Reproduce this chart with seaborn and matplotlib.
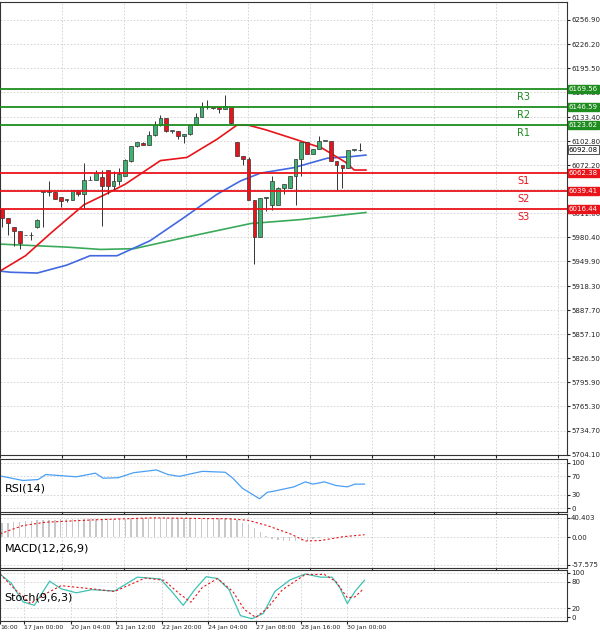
import numpy as np
import pandas as pd
import matplotlib
matplotlib.use("Agg")
import matplotlib.pyplot as plt
import seaborn as sns

# ---- data ----
opens  = [6016,6005,5994,5989,5984,5983,5993,6038,6038,6038,6032,6028,6028,6040,6035,6053,6053,6057,6066,6046,6052,6058,6077,6096,6100,6098,6110,6123,6132,6116,6116,6109,6112,6123,6134,6146,6146,6146,6144,6146,6101,6084,6080,6028,5981,6031,6022,6022,6043,6043,6059,6080,6102,6086,6093,6103,6103,6077,6072,6068,6092,6092]
closes = [6005,5999,5989,5973,5983,5983,6002,6038,6038,6029,6026,6029,6040,6035,6053,6053,6062,6046,6046,6052,6061,6079,6096,6101,6098,6110,6123,6132,6115,6116,6109,6112,6123,6134,6146,6146,6145,6144,6147,6126,6084,6080,6028,5981,6031,6032,6052,6043,6048,6059,6080,6102,6086,6093,6103,6103,6077,6072,6068,6091,6092,6091]
highs  = [6016,6005,5994,5989,5984,5987,6004,6038,6052,6038,6032,6029,6040,6040,6075,6058,6066,6066,6046,6065,6068,6080,6096,6101,6101,6115,6128,6136,6132,6116,6116,6112,6123,6138,6153,6155,6146,6148,6161,6146,6101,6084,6082,6028,6031,6032,6058,6044,6048,6059,6080,6102,6102,6093,6109,6103,6103,6077,6072,6075,6092,6100]
lows   = [5994,5984,5970,5966,5983,5977,5992,5994,6033,6029,6019,6025,6028,6033,6018,6053,6053,5995,6035,6040,6047,6058,6076,6095,6098,6098,6109,6122,6114,6113,6106,6100,6110,6123,6134,6144,6143,6138,6144,6124,6084,6073,6080,5946,5981,6014,6015,6033,6035,6043,6022,6058,6086,6086,6093,6103,6077,6040,6043,6068,6090,6090]

red_ma_x  = [-5,-2,4,8.5,14,17.6,21,27,31.5,36.6,40,42,45,50,54.5,58.5,60,62]
red_ma_y  = [5900,5930,5957,5987,6022,6035,6048,6078,6082,6105,6123,6123,6117,6105,6094,6076,6066,6066]
blue_ma_x = [-1,1.5,6,11,15,19.6,25.2,30.9,36.6,40.6,44,49.7,55.4,59.4,62]
blue_ma_y = [5938,5936,5935,5945,5957,5957,5976,6005,6035,6052,6062,6069,6081,6083,6085]
green_ma_x= [-1,11,16.8,22.5,31,42.4,50.9,62]
green_ma_y= [5972,5968,5965,5966,5980,5998,6003,6012]

levels_val = [6169.56,6146.59,6123.62,6062.38,6039.41,6016.44]
levels_lab = ["R3","R2","R1","S1","S2","S3"]
last_price = 6092.08
price_ticks = [6256.90,6226.20,6195.50,6164.80,6133.40,6102.80,6072.20,6041.70,6011.00,5980.40,5949.90,5918.30,5887.70,5857.10,5826.50,5795.90,5765.30,5734.70,5704.10]

rsi_x = [0,60,100,120,200,250,270,310,350,410,440,470,530,590,610,635,680,700,720,770,800,820,850,880,910,930,955]
rsi_y = [71,61,63,74,69,77,66,67,78,84,74,70,81,79,66,44,21,35,38,47,58,53,58,50,47,53,53]

macd_hist = [29,30,31,32,33,34,35,35,36,36,37,37,37,37,38,38,38,38,38,38,38,38,39,39,39,39,39,40,40,40,40,40,40,40,40,40,40,40,40,40,35,30,25,18,10,3,-4,-6,-7,-8,-8,-9,-7,-4,-1,0,0,0,0,0,0,0]
macd_sig_x = [0,60,120,250,400,600,650,700,760,800,840,900,955]
macd_sig_y = [7,24,31,36,40,38,35,24,7,-8,-7,1,5]

sto_x = [0,30,60,90,130,160,200,240,300,360,420,450,480,510,540,570,600,630,660,690,720,760,800,840,870,890,910,930,955]
sto_y = [97,76,35,27,81,64,55,62,59,90,86,58,27,62,91,87,62,4,-3,9,58,84,97,90,90,67,31,58,83]
sig_x = [0,40,80,120,160,240,300,380,430,470,500,530,570,610,640,670,700,740,800,850,880,910,930,950]
sig_y = [97,62,31,53,71,64,58,88,83,53,34,67,87,58,18,0,20,62,96,96,80,44,46,62]

x_labels = ["16:00","17 Jan 00:00","20 Jan 04:00","21 Jan 12:00","22 Jan 20:00","24 Jan 04:00","27 Jan 08:00","28 Jan 16:00","30 Jan 00:00"]
x_label_px = [0,24,71,116,162,208,256,301,347]

# ---- layout ----
W, H = 600, 635
fig = plt.figure(figsize=(6, 6.35), dpi=100)
fig.patch.set_facecolor("white")
pw = 567 / W
def px2idx(px):
    return (np.asarray(px, float) - 2) / 5.87
ZX = 2.62  # zoom scale of indicator readings
xlim = (px2idx(0), px2idx(567))

ax = fig.add_axes([0, (H-455)/H, pw, 453/H])
ax_rsi = fig.add_axes([0, (H-512)/H, pw, 53/H])
ax_macd = fig.add_axes([0, (H-568)/H, pw, 54/H])
ax_sto = fig.add_axes([0, (H-621)/H, pw, 51/H])

for a in (ax, ax_rsi, ax_macd, ax_sto):
    a.set_xlim(*xlim)
    a.set_xticks(px2idx(np.arange(0, 567, 62)))
    a.grid(True, color="#cfcfcf", linestyle=(0, (2, 2)), linewidth=0.6)
    a.set_axisbelow(True)
    a.yaxis.tick_right()
    a.tick_params(axis="both", labelsize=5, length=2, pad=1, colors="#222222")
    a.set_xticklabels([])
    for s in a.spines.values():
        s.set_color("#333333"); s.set_linewidth(0.8)

# main candles
idx = np.arange(len(opens))
o = np.array(opens); c = np.array(closes)
ax.vlines(idx, lows, highs, color="#333333", linewidth=0.7, zorder=3)
cols = np.where(c >= o, "#3cb371", "#e8141a")
ax.bar(idx, np.maximum(np.abs(c - o), 0.8), bottom=np.minimum(o, c), width=0.65,
       color=cols, edgecolor="#333333", linewidth=0.5, zorder=4)

sns.lineplot(x=green_ma_x, y=green_ma_y, ax=ax, color="#3aaa5a", linewidth=1.2, zorder=2)
sns.lineplot(x=blue_ma_x, y=blue_ma_y, ax=ax, color="#4169e1", linewidth=1.2, zorder=2)
sns.lineplot(x=red_ma_x, y=red_ma_y, ax=ax, color="#e8141a", linewidth=1.2, zorder=2)

ax.set_ylim(5704.1 - 0.5, 6256.9 + 18 * 1.265)
ax.set_yticks(price_ticks)
ax.set_yticklabels([f"{v:.2f}" for v in price_ticks])
for v, lab in zip(levels_val, levels_lab):
    colr = "#1e8c1e" if lab.startswith("R") else "#e8141a"
    ax.axhline(v, color=colr, linewidth=1.3, zorder=5)
    ax.text(px2idx(524), v - 4, lab, color=colr, fontsize=7, va="top", ha="center")
    ax.text(1.003, v, f"{v:.2f}", transform=ax.get_yaxis_transform(), fontsize=5,
            va="center", ha="left", color="white",
            bbox=dict(boxstyle="square,pad=0.15", fc=colr, ec=colr))
ax.text(1.003, last_price, f"{last_price:.2f}", transform=ax.get_yaxis_transform(), fontsize=5,
        va="center", ha="left", color="black",
        bbox=dict(boxstyle="square,pad=0.15", fc="white", ec="#333333", lw=0.6))

# RSI
sns.lineplot(x=px2idx(np.array(rsi_x) / ZX), y=rsi_y, ax=ax_rsi, color="#4a9ff5", linewidth=0.9)
ax_rsi.set_ylim(-8, 108)
ax_rsi.set_yticks([0, 30, 70, 100])
ax_rsi.text(0.008, 0.38, "RSI(14)", transform=ax_rsi.transAxes, fontsize=8)

# MACD
ax_macd.bar(idx, macd_hist, width=0.25, color="#c8c8c8", zorder=2)
sns.lineplot(x=px2idx(np.array(macd_sig_x) / ZX), y=macd_sig_y, ax=ax_macd, color="#e8141a",
             linewidth=0.8, linestyle=(0, (2, 2)))
ax_macd.set_ylim(-64, 48)
ax_macd.set_yticks([40.403, 0, -57.575])
ax_macd.set_yticklabels(["40.403", "0.00", "-57.575"])
ax_macd.text(0.008, 0.3, "MACD(12,26,9)", transform=ax_macd.transAxes, fontsize=8)

# Stoch
sns.lineplot(x=px2idx(np.array(sto_x) / ZX), y=sto_y, ax=ax_sto, color="#3cc2b4", linewidth=0.9)
sns.lineplot(x=px2idx(np.array(sig_x) / ZX), y=sig_y, ax=ax_sto, color="#e8141a",
             linewidth=0.8, linestyle=(0, (2, 2)))
ax_sto.set_ylim(-8, 106)
ax_sto.set_yticks([0, 20, 80, 100])
ax_sto.text(0.008, 0.4, "Stoch(9,6,3)", transform=ax_sto.transAxes, fontsize=8)

ax_sto.set_xticks(px2idx(x_label_px))
ax_sto.set_xticklabels(x_labels, fontsize=4.5)
for t in ax_sto.get_xticklabels():
    t.set_ha("left")

for a in (ax, ax_rsi, ax_macd, ax_sto):
    a.set_xlabel(""); a.set_ylabel("")

fig.savefig("out.png", dpi=100, facecolor="white")
